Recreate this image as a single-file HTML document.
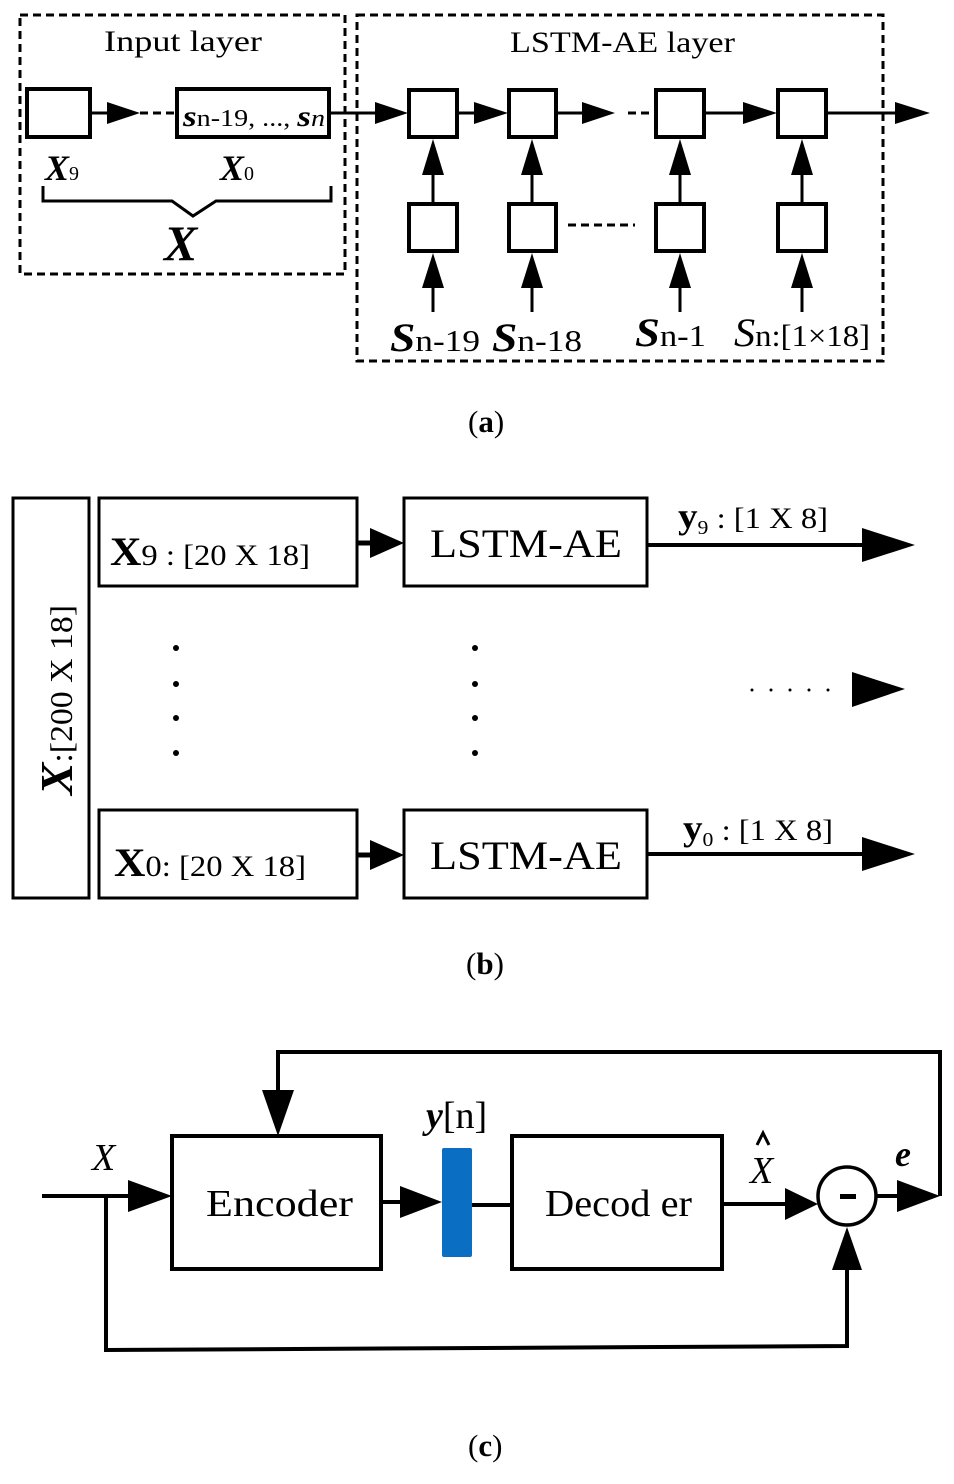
<!DOCTYPE html>
<html><head><meta charset="utf-8"><style>
html,body{margin:0;padding:0;background:#fff}
svg{display:block}
text{font-family:"Liberation Serif",serif;fill:#000}
</style></head><body>
<svg width="954" height="1484" viewBox="0 0 954 1484" xmlns="http://www.w3.org/2000/svg">
<g fill="none" stroke="#000" stroke-width="3">
<!-- (a) -->
<rect x="20" y="15" width="325" height="259" stroke-dasharray="8,5"/>
<rect x="357" y="15" width="526" height="346" stroke-dasharray="8,5"/>
<rect x="27" y="89" width="63" height="48" stroke-width="4"/>
<rect x="177" y="89" width="152" height="48" stroke-width="4"/>
<line x1="90" y1="113" x2="108" y2="113"/>
<line x1="140" y1="113" x2="177" y2="113" stroke-dasharray="8,5"/>
<line x1="329" y1="113" x2="378" y2="113"/>
<line x1="457" y1="113" x2="476" y2="113"/>
<line x1="556" y1="113" x2="583" y2="113"/>
<line x1="628" y1="113" x2="656" y2="113" stroke-dasharray="8,5"/>
<line x1="704" y1="113" x2="745" y2="113"/>
<line x1="826" y1="113" x2="898" y2="113"/>
<line x1="568" y1="225" x2="635" y2="225" stroke-dasharray="8,5"/>
<g stroke-width="4">
<rect x="409" y="90" width="48" height="47"/><rect x="509" y="90" width="47" height="47"/>
<rect x="656" y="90" width="48" height="47"/><rect x="778" y="90" width="48" height="47"/>
<rect x="409" y="204" width="48" height="47"/><rect x="509" y="204" width="47" height="47"/>
<rect x="656" y="204" width="48" height="47"/><rect x="778" y="204" width="48" height="47"/>
</g>
<line x1="433" y1="204" x2="433" y2="172"/><line x1="532" y1="204" x2="532" y2="172"/>
<line x1="680" y1="204" x2="680" y2="172"/><line x1="802" y1="204" x2="802" y2="172"/>
<line x1="433" y1="312" x2="433" y2="285"/><line x1="532" y1="312" x2="532" y2="285"/>
<line x1="680" y1="312" x2="680" y2="285"/><line x1="802" y1="312" x2="802" y2="285"/>
<path d="M43,186V201H172L193,216L216,201H331V186"/>
</g>
<g fill="#000">
<path d="M107,102L140,113L107,124z"/>
<path d="M375,102L408,113L375,124z"/>
<path d="M474,102L508,113L474,124z"/>
<path d="M582,102L615,113L582,124z"/>
<path d="M743,102L777,113L743,124z"/>
<path d="M895,102L930,113L895,124z"/>
<g id="up"><path d="M422,175L433,139L444,175z"/><path d="M422,288L433,253L444,288z"/></g>
<use href="#up" x="99"/><use href="#up" x="247"/><use href="#up" x="369"/>
</g>
<text x="104" y="51" font-size="30" textLength="158" lengthAdjust="spacingAndGlyphs">Input layer</text>
<text x="510" y="52" font-size="30" textLength="225" lengthAdjust="spacingAndGlyphs">LSTM-AE layer</text>
<text x="183" y="126" font-size="24" textLength="142" lengthAdjust="spacingAndGlyphs"><tspan font-weight="bold" font-style="italic" font-size="30">s</tspan>n-19, ..., <tspan font-weight="bold" font-style="italic" font-size="30">s</tspan><tspan font-style="italic">n</tspan></text>
<text x="45" y="180" font-size="36" font-weight="bold" font-style="italic">X<tspan font-size="20" font-weight="normal" font-style="normal">9</tspan></text>
<text x="220" y="180" font-size="36" font-weight="bold" font-style="italic">X<tspan font-size="20" font-weight="normal" font-style="normal">0</tspan></text>
<text x="164" y="260" font-size="50" font-weight="bold" font-style="italic">X</text>
<text x="390" y="351" font-size="31" textLength="90" lengthAdjust="spacingAndGlyphs"><tspan font-weight="bold" font-style="italic" font-size="40">S</tspan>n-19</text>
<text x="492" y="351" font-size="31" textLength="90" lengthAdjust="spacingAndGlyphs"><tspan font-weight="bold" font-style="italic" font-size="40">S</tspan>n-18</text>
<text x="635" y="346" font-size="31" textLength="71" lengthAdjust="spacingAndGlyphs"><tspan font-weight="bold" font-style="italic" font-size="40">S</tspan>n-1</text>
<text x="734" y="346" font-size="31" textLength="136" lengthAdjust="spacingAndGlyphs"><tspan font-style="italic" font-size="40">S</tspan>n:[1×18]</text>
<text x="468" y="432" font-size="31">(<tspan font-weight="bold">a</tspan>)</text>

<!-- (b) -->
<g fill="none" stroke="#000" stroke-width="3">
<rect x="13" y="498" width="76" height="400"/>
<rect x="99" y="498" width="258" height="88"/><rect x="404" y="498" width="243" height="88"/>
<rect x="99" y="810" width="258" height="88"/><rect x="404" y="810" width="243" height="88"/>
<line x1="357" y1="543" x2="372" y2="543" stroke-width="5"/>
<line x1="357" y1="855" x2="372" y2="855" stroke-width="5"/>
<line x1="647" y1="545" x2="866" y2="545" stroke-width="4"/>
<line x1="647" y1="854" x2="866" y2="854" stroke-width="4"/>
</g>
<g fill="#000">
<path d="M370,528L404,543L370,558z"/><path d="M370,840L404,855L370,870z"/>
<path d="M862,528L915,545L862,562z"/><path d="M862,837L915,854L862,871z"/>
<path d="M852,672L905,689L852,707z"/>
<circle cx="176" cy="648" r="3"/><circle cx="176" cy="684" r="3"/><circle cx="176" cy="718" r="3"/><circle cx="176" cy="753" r="3"/>
<circle cx="475" cy="648" r="3"/><circle cx="475" cy="684" r="3"/><circle cx="475" cy="718" r="3"/><circle cx="475" cy="753" r="3"/>
<circle cx="752" cy="690" r="1.5"/><circle cx="771" cy="690" r="1.5"/><circle cx="790" cy="690" r="1.5"/><circle cx="809" cy="690" r="1.5"/><circle cx="828" cy="690" r="1.5"/>
</g>
<text transform="translate(72,795) rotate(-90)" font-size="32" textLength="190" lengthAdjust="spacingAndGlyphs"><tspan font-weight="bold" font-style="italic" font-size="46">X</tspan>:[200 X 18]</text>
<text x="110" y="565" font-size="30" textLength="200" lengthAdjust="spacingAndGlyphs"><tspan font-weight="bold" font-size="40">X</tspan>9 : [20 X 18]</text>
<text x="114" y="876" font-size="30" textLength="192" lengthAdjust="spacingAndGlyphs"><tspan font-weight="bold" font-size="40">X</tspan>0: [20 X 18]</text>
<text x="430" y="557" font-size="40" textLength="192" lengthAdjust="spacingAndGlyphs">LSTM-AE</text>
<text x="430" y="869" font-size="40" textLength="192" lengthAdjust="spacingAndGlyphs">LSTM-AE</text>
<text x="678" y="528" font-size="30" textLength="150" lengthAdjust="spacingAndGlyphs"><tspan font-weight="bold" font-size="36">y</tspan><tspan font-size="20" dy="6">9</tspan><tspan dy="-6"> : [1 X 8]</tspan></text>
<text x="683" y="840" font-size="30" textLength="150" lengthAdjust="spacingAndGlyphs"><tspan font-weight="bold" font-size="36">y</tspan><tspan font-size="20" dy="6">0</tspan><tspan dy="-6"> : [1 X 8]</tspan></text>
<text x="466" y="974" font-size="31">(<tspan font-weight="bold">b</tspan>)</text>

<!-- (c) -->
<g fill="none" stroke="#000" stroke-width="4">
<rect x="172" y="1136" width="209" height="133"/>
<rect x="512" y="1136" width="210" height="133"/>
<line x1="42" y1="1196" x2="130" y2="1196"/>
<path d="M106,1196V1350L847,1346V1270"/>
<line x1="381" y1="1202" x2="402" y2="1202"/>
<line x1="472" y1="1205" x2="512" y2="1205"/>
<line x1="722" y1="1204" x2="787" y2="1204"/>
<line x1="876" y1="1196" x2="899" y2="1196"/>
<path d="M940,1196V1052H278V1092"/>
<circle cx="847" cy="1196" r="29" stroke-width="3.5"/>
</g>
<g fill="#000">
<path d="M128,1180L172,1196L128,1212z"/>
<path d="M400,1186L442,1202L400,1218z"/>
<path d="M785,1188L818,1204L785,1220z"/>
<path d="M897,1180L940,1196L897,1212z"/>
<path d="M262,1090L278,1136L294,1090z"/>
<path d="M832,1270L847,1227L862,1270z"/>
<rect x="840" y="1194" width="16" height="5"/>
</g>
<rect x="442" y="1148" width="30" height="109" rx="2" fill="#0a6fc2"/>
<text x="92" y="1170" font-size="38" font-style="italic">X</text>
<text x="206" y="1216" font-size="38" textLength="147" lengthAdjust="spacingAndGlyphs">Encoder</text>
<text x="545" y="1216" font-size="38" textLength="147" lengthAdjust="spacingAndGlyphs">Decod er</text>
<text x="426" y="1128" font-size="38"><tspan font-style="italic" font-weight="bold">y</tspan>[n]</text>
<text x="750" y="1183" font-size="38" font-style="italic">X</text>
<path d="M757,1145L763,1133L769,1145" fill="none" stroke="#000" stroke-width="3"/>
<text x="895" y="1166" font-size="36" font-style="italic" font-weight="bold">e</text>
<text x="468" y="1456" font-size="31">(<tspan font-weight="bold">c</tspan>)</text>
</svg>
</body></html>
